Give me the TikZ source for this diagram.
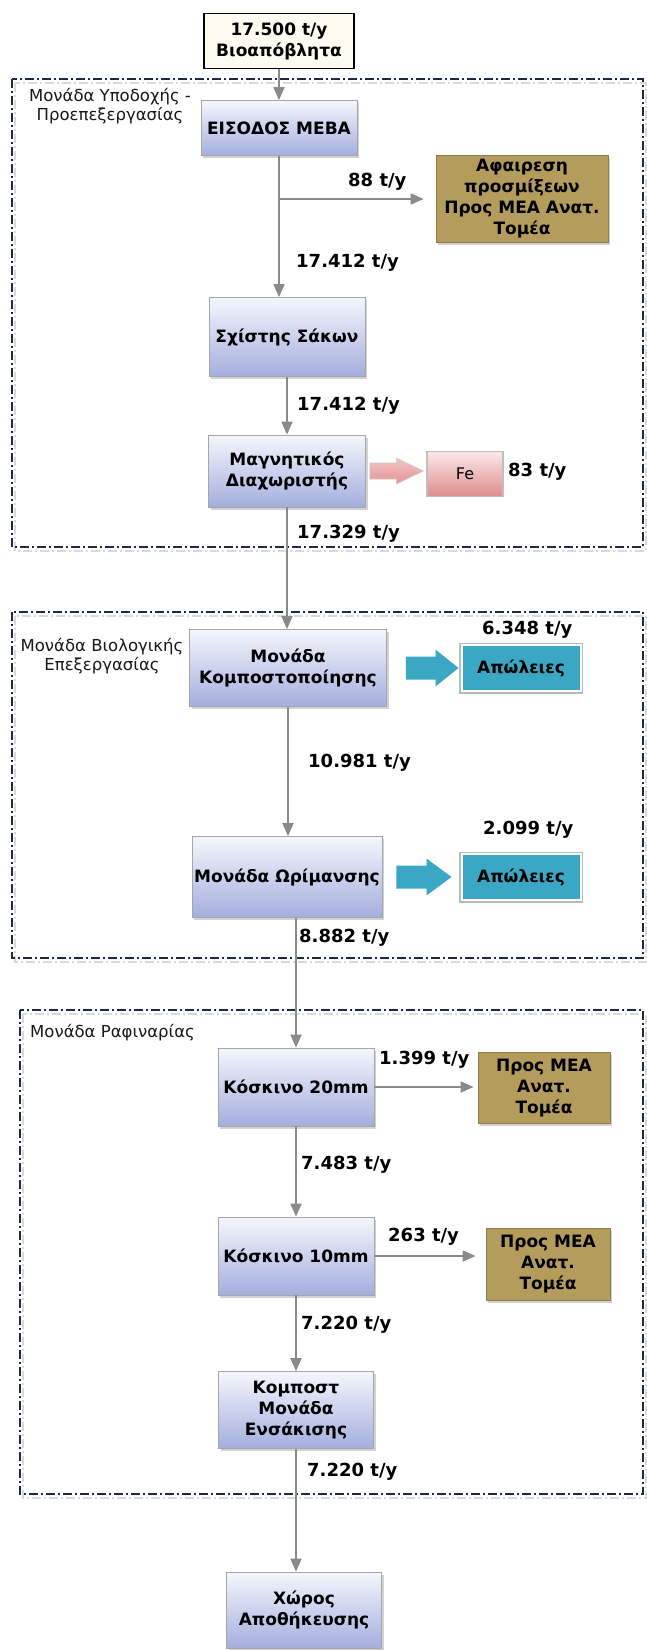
\documentclass[tikz,border=0pt]{standalone}
\usepackage{fontspec}
\setmainfont{DejaVu Sans}
\usepackage{tikz}
\usetikzlibrary{arrows.meta, positioning, calc, shadows}

\definecolor{flowgray}{HTML}{8A8A8A}
\definecolor{zonenavy}{HTML}{1E2946}
\definecolor{unittop}{HTML}{F5F6FC}
\definecolor{unitbot}{HTML}{A3AEDE}
\definecolor{goldfill}{HTML}{B49C5C}
\definecolor{goldedge}{HTML}{8E7C4A}
\definecolor{losscyan}{HTML}{3AA8C4}
\definecolor{fetop}{HTML}{FBE8E8}
\definecolor{febot}{HTML}{DE8C8C}
\definecolor{pinktop}{HTML}{F3C6C6}
\definecolor{pinkbot}{HTML}{E39393}
\definecolor{feedfill}{HTML}{FEFAF0}

% block arrow: style, start, tip, half shaft, half head, head length
\newcommand{\fatarrow}[6]{%
  \path[#1] ($#2+(0,-#4)$) -- ($#3+(-#6,-#4)$) -- ($#3+(-#6,-#5)$) -- #3
    -- ($#3+(-#6,#5)$) -- ($#3+(-#6,#4)$) -- ($#2+(0,#4)$) -- cycle;}

\begin{document}
\begin{tikzpicture}[x=1pt, y=-1pt,
    boxfont/.style={font=\bfseries\fontsize{17}{21}\selectfont},
    unitbox/.style={boxfont, draw=gray!70, line width=0.8pt, top color=unittop, bottom color=unitbot,
        inner sep=0pt, align=center, drop shadow={shadow xshift=2pt, shadow yshift=-2.5pt, opacity=0.35}},
    goldbox/.style={boxfont, draw=goldedge, line width=0.8pt, fill=goldfill, inner sep=0pt, align=center,
        drop shadow={shadow xshift=2pt, shadow yshift=-2.5pt, opacity=0.35}},
    lossbox/.style={boxfont, fill=losscyan, draw=white, line width=2pt, inner sep=0pt,
        preaction={draw=gray!55, line width=5pt}},
    febox/.style={font=\fontsize{16}{19}\selectfont, top color=fetop, bottom color=febot, draw=gray!50,
        line width=1.2pt, inner sep=0pt},
    feedbox/.style={boxfont, fill=feedfill, draw=black, line width=1.4pt, inner sep=0pt, align=center},
    zone/.style={draw=zonenavy, line width=2pt, dash pattern=on 9pt off 3pt on 2pt off 3pt},
    zoneshadow/.style={draw=gray!30, line width=2.5pt, dash pattern=on 9pt off 3pt on 2pt off 3pt},
    zonelbl/.style={font=\fontsize{16.5}{19}\selectfont, align=center, inner sep=0pt, text=black!90},
    flowlbl/.style={font=\bfseries\fontsize{18}{21}\selectfont, inner sep=0pt, anchor=west},
    flow/.style={draw=flowgray, line width=1.8pt, -{Triangle[length=13pt, width=11pt]}},
    fatcyan/.style={fill=losscyan},
    fatpink/.style={top color=pinktop, bottom color=pinkbot, draw=gray!40, line width=0.6pt}]

    \fill[white] (0,0) rectangle (646,1650);
    \useasboundingbox (0,0) rectangle (646,1650);

    % Zones
    \draw[zoneshadow] (15,83) rectangle (646,551);
    \draw[zone] (12,79) rectangle (643,547);
    \draw[zoneshadow] (15,616) rectangle (646,962);
    \draw[zone] (12,612) rectangle (643,958);
    \draw[zoneshadow] (23,1014) rectangle (646,1498);
    \draw[zone] (20,1010) rectangle (643,1494);

    \node[zonelbl] (zone1lbl) at (110,106) {Μονάδα Υποδοχής -\\Προεπεξεργασίας};
    \node[zonelbl] (zone2lbl) at (102,656) {Μονάδα Βιολογικής\\Επεξεργασίας};
    \node[zonelbl, anchor=west] (zone3lbl) at (30,1033) {Μονάδα Ραφιναρίας};

    % Input
    \node[feedbox, minimum width=150pt, minimum height=55pt] (feed) at (279,41) {17.500 t/y\\Βιοαπόβλητα};

    % Reception - pretreatment
    \node[unitbox, minimum width=156pt, minimum height=55pt] (eisodos) at (279,128) {ΕΙΣΟΔΟΣ ΜΕΒΑ};
    \node[goldbox, minimum width=172pt, minimum height=87pt] (impur) at (522,199) {Αφαιρεση\\προσμίξεων\\Προς ΜΕΑ Ανατ.\\Τομέα};
    \node[unitbox, minimum width=156pt, minimum height=79pt] (bags) at (287,337) {Σχίστης Σάκων};
    \node[unitbox, minimum width=157pt, minimum height=72pt] (magnet) at (287,471) {Μαγνητικός\\Διαχωριστής};
    \node[febox, minimum width=76pt, minimum height=45pt] (fe) at (465,474) {Fe};

    % Biological treatment
    \node[unitbox, minimum width=197pt, minimum height=77pt] (compost) at (288,668) {Μονάδα\\Κομποστοποίησης};
    \node[lossbox, minimum width=119pt, minimum height=46pt] (loss1) at (521,668) {Απώλειες};
    \node[unitbox, minimum width=190pt, minimum height=81pt] (maturing) at (287,877) {Μονάδα Ωρίμανσης};
    \node[lossbox, minimum width=119pt, minimum height=46pt] (loss2) at (521,877) {Απώλειες};

    % Refining
    \node[unitbox, minimum width=156pt, minimum height=78pt] (sieve20) at (296,1087) {Κόσκινο 20mm};
    \node[goldbox, minimum width=132pt, minimum height=71pt] (mea2) at (544,1088) {Προς ΜΕΑ\\Ανατ.\\Τομέα};
    \node[unitbox, minimum width=156pt, minimum height=78pt] (sieve10) at (296,1256) {Κόσκινο 10mm};
    \node[goldbox, minimum width=124pt, minimum height=72pt] (mea3) at (548,1264) {Προς ΜΕΑ\\Ανατ.\\Τομέα};
    \node[unitbox, minimum width=155pt, minimum height=77pt] (bagging) at (296,1410) {Κομποστ\\Μονάδα\\Ενσάκισης};

    % Storage
    \node[unitbox, minimum width=155pt, minimum height=76pt] (storage) at (304,1610) {Χώρος\\Αποθήκευσης};

    % Flows
    \draw[flow] (feed) -- (eisodos);
    \draw[flow] (eisodos) -- (eisodos |- bags.north);
    \draw[flow, shorten >=12pt] (eisodos |- impur) -- (impur.west);
    \draw[flow] (bags) -- (magnet);
    \draw[flow] (magnet) -- (magnet |- compost.north);
    \draw[flow] (compost) -- (compost |- maturing.north);
    \draw[flow] (sieve20 |- maturing.south) -- (sieve20);
    \draw[flow, shorten >=4pt] (sieve20) -- (sieve20 -| mea2.west);
    \draw[flow] (sieve20) -- (sieve10);
    \draw[flow, shorten >=10pt] (sieve10) -- (sieve10 -| mea3.west);
    \draw[flow] (sieve10) -- (bagging);
    \draw[flow] (bagging) -- (bagging |- storage.north);

    % Block arrows
    \coordinate (fes) at ($(magnet.east)+(4,0)$);
    \coordinate (fet) at ($(magnet.east -| fe.west)+(-3,0)$);
    \fatarrow{fatpink}{(fes)}{(fet)}{8}{13}{27}
    \coordinate (l1s) at ($(compost.east)+(19,0)$);
    \coordinate (l1t) at ($(loss1.west)+(-2,0)$);
    \fatarrow{fatcyan}{(l1s)}{(l1t)}{11.5}{18.5}{23}
    \coordinate (l2s) at ($(maturing.east)+(14,0)$);
    \coordinate (l2t) at ($(loss2.west)+(-9,0)$);
    \fatarrow{fatcyan}{(l2s)}{(l2t)}{11.5}{18.5}{25}

    % Quantities
    \node[flowlbl] (q88) at (348,182) {88 t/y};
    \node[flowlbl] (q17412a) at (296,263) {17.412 t/y};
    \node[flowlbl] (q17412b) at (297,406) {17.412 t/y};
    \node[flowlbl] (q83) at (508,472) {83 t/y};
    \node[flowlbl] (q17329) at (297,534) {17.329 t/y};
    \node[flowlbl] (q6348) at (482,630) {6.348 t/y};
    \node[flowlbl] (q10981) at (308,763) {10.981 t/y};
    \node[flowlbl] (q2099) at (483,830) {2.099 t/y};
    \node[flowlbl] (q8882) at (299,938) {8.882 t/y};
    \node[flowlbl] (q1399) at (379,1060) {1.399 t/y};
    \node[flowlbl] (q7483) at (301,1165) {7.483 t/y};
    \node[flowlbl] (q263) at (388,1237) {263 t/y};
    \node[flowlbl] (q7220a) at (301,1325) {7.220 t/y};
    \node[flowlbl] (q7220b) at (307,1472) {7.220 t/y};
\end{tikzpicture}
\end{document}
